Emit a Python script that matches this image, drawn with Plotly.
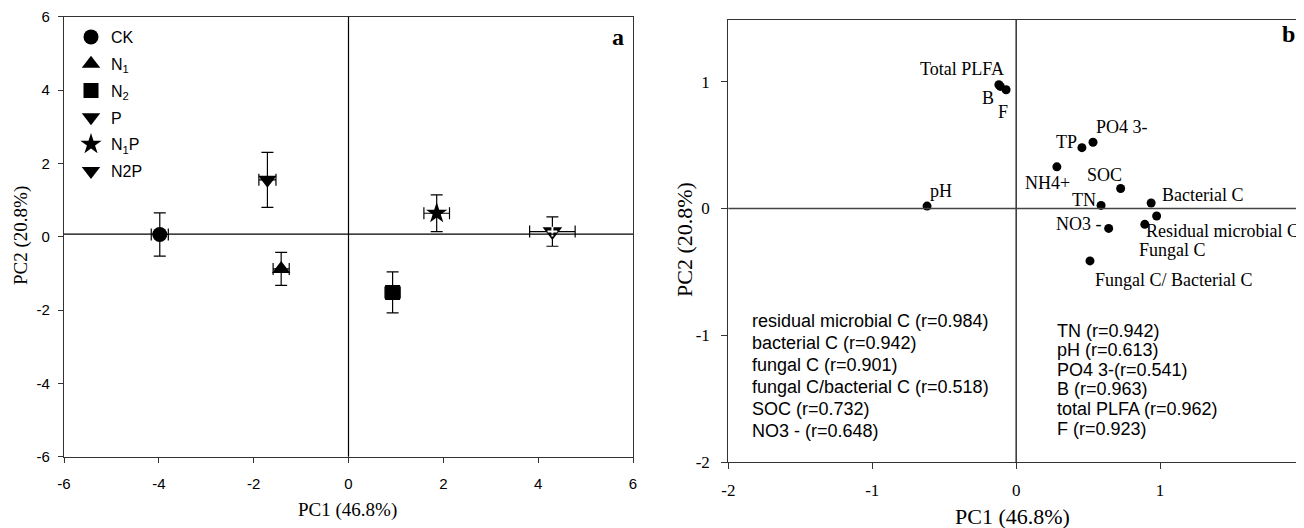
import plotly.graph_objects as go

# ---------------- Panel a: treatment scores (mean ± SE) ----------------
treatments = ["CK", "N<sub>1</sub>", "N<sub>2</sub>", "P", "N<sub>1</sub>P", "N2P"]
pc1_score = [-3.98, -1.42, 0.93, -1.71, 1.86, 4.30]
pc2_score = [0.06, -0.88, -1.52, 1.55, 0.64, 0.14]
pc1_err = [0.18, 0.17, 0.16, 0.18, 0.27, 0.48]
pc2_err = [0.59, 0.45, 0.56, 0.75, 0.50, 0.40]

# ---------------- Panel b: variable loadings ----------------
variables = ["Total PLFA", "B", "F", "PO4 3-", "TP", "NH4+", "SOC", "TN",
             "Bacterial C", "Residual microbial C", "Fungal C", "NO3 -",
             "Fungal C/ Bacterial C", "pH"]
pc1_load = [-0.12, -0.11, -0.07, 0.534, 0.457, 0.283, 0.726, 0.59,
            0.938, 0.976, 0.894, 0.643, 0.513, -0.619]
pc2_load = [0.975, 0.962, 0.935, 0.522, 0.479, 0.328, 0.157, 0.024,
            0.043, -0.059, -0.125, -0.157, -0.413, 0.019]

left_notes = ["residual microbial C (r=0.984)", "bacterial C (r=0.942)",
              "fungal C (r=0.901)", "fungal C/bacterial C (r=0.518)",
              "SOC (r=0.732)", "NO3 - (r=0.648)"]
right_notes = ["TN (r=0.942)", "pH (r=0.613)", "PO4 3-(r=0.541)",
               "B (r=0.963)", "total PLFA (r=0.962)", "F (r=0.923)"]

# tick labels
ticks_a = [-6, -4, -2, 0, 2, 4, 6]
ticks_a_text = ["-6", "-4", "-2", "0", "2", "4", "6"]
ticks_b_x = [-2, -1, 0, 1, 2]
ticks_b_x_text = ["-2", "-1", "0", "1", "2"]
ticks_b_y = [-2, -1, 0, 1]
ticks_b_y_text = ["-2", "-1", "0", "1"]

# ---------------- styles ----------------
PAGE_W, PAGE_H = 1304, 528
OFF = 8                      # default body margin of the html page
W, H = PAGE_W - OFF, PAGE_H - OFF
SANS = "Liberation Sans, Arial, sans-serif"
SERIF = "Liberation Serif, Times New Roman, serif"
symbols = ["circle", "triangle-up", "square", "triangle-down", "star", "triangle-down"]
sizes = [15, 16, 15, 16, 16, 17]


def fx(xp):
    """page pixel x -> paper fraction"""
    return (xp - OFF) / W


def fy(yp):
    """page pixel y -> paper fraction"""
    return 1 - (yp - OFF) / H


# label placement for panel b: (dx px, dy px, x anchor)
label_off = [(-37, 16, "center"), (-12, -12, "center"), (-3, -22, "center"),
             (29, 15, "center"), (-15, 6, "center"), (-9, -16, "center"),
             (-16, 14, "center"), (-17, 5, "center"), (51, 8, "center"),
             (144, -15, "right"), (28, -26, "center"), (-30, 4, "center"),
             (84, -19, "center"), (14, 15, "center")]

fig = go.Figure()

for i, name in enumerate(treatments):
    fig.add_trace(go.Scatter(
        x=[pc1_score[i]], y=[pc2_score[i]], mode="markers", name=name,
        legendgroup=str(i),
        marker=dict(symbol=symbols[i], size=sizes[i], color="black",
                    line=dict(width=0)),
        error_x=dict(type="data", array=[pc1_err[i]], color="black",
                     thickness=1.2, width=6),
        error_y=dict(type="data", array=[pc2_err[i]], color="black",
                     thickness=1.2, width=6),
        xaxis="x", yaxis="y"))

# white cross inside the N2P marker
fig.add_trace(go.Scatter(
    x=[pc1_score[5]], y=[pc2_score[5]], mode="markers", showlegend=False,
    legendgroup="5", hoverinfo="skip",
    marker=dict(symbol="cross-thin", size=7, color="white",
                line=dict(color="white", width=2)),
    xaxis="x", yaxis="y"))

fig.add_trace(go.Scatter(
    x=pc1_load, y=pc2_load, mode="markers", showlegend=False,
    marker=dict(symbol="circle", size=9, color="black"),
    xaxis="x2", yaxis="y2"))

annotations = []
for i, v in enumerate(variables):
    dx, dy, anc = label_off[i]
    annotations.append(dict(
        x=pc1_load[i], y=pc2_load[i], xref="x2", yref="y2", text=v,
        showarrow=False, xshift=dx, yshift=dy, xanchor=anc,
        font=dict(family=SERIF, size=18, color="black")))

# r= notes
for j, t in enumerate(left_notes):
    annotations.append(dict(x=-1.846, y=-0.885 - j * 0.1736, xref="x2", yref="y2",
                            text=t, showarrow=False, xanchor="left",
                            font=dict(family=SANS, size=18, color="black")))
for j, t in enumerate(right_notes):
    annotations.append(dict(x=0.269, y=-0.964 - j * 0.154, xref="x2", yref="y2",
                            text=t, showarrow=False, xanchor="left",
                            font=dict(family=SANS, size=18, color="black")))

# axis titles and panel letters
for (xp, yp, txt, ang, sz) in [
        (347, 510, "PC1 (46.8%)", 0, 19),
        (21, 236, "PC2 (20.8%)", -90, 19),
        (1013, 516, "PC1 (46.8%)", 0, 22),
        (685, 240, "PC2 (20.8%)", -90, 22),
        (618, 37, "<b>a</b>", 0, 24),
        (1288, 34, "<b>b</b>", 0, 24)]:
    annotations.append(dict(x=fx(xp), y=fy(yp), xref="paper", yref="paper", text=txt,
                            textangle=ang, showarrow=False,
                            xanchor="center", yanchor="middle",
                            font=dict(family=SERIF, size=sz, color="black")))

shapes = [
    dict(type="line", xref="x", yref="y domain", x0=0, x1=0, y0=0, y1=1,
         line=dict(color="black", width=1.2)),
    dict(type="line", xref="x domain", yref="y", x0=0, x1=1, y0=0.07, y1=0.07,
         line=dict(color="black", width=1.2)),
    dict(type="line", xref="x2", yref="y2 domain", x0=0, x1=0, y0=0, y1=1,
         line=dict(color="black", width=1.2)),
    dict(type="line", xref="x2 domain", yref="y2", x0=0, x1=1, y0=0, y1=0,
         line=dict(color="#444", width=1.4)),
]

axis_common = dict(showgrid=False, zeroline=False, showline=True, mirror=True,
                   linecolor="#333", linewidth=1.2, ticks="outside",
                   tickcolor="#333", tickwidth=1.2, automargin=False,
                   ticklabeloverflow="allow")

fig.update_layout(
    width=W, height=H, template="none",
    margin=dict(l=0, r=0, t=0, b=0),
    paper_bgcolor="white", plot_bgcolor="white",
    showlegend=True,
    legend=dict(x=fx(71), y=fy(20), xanchor="left", yanchor="top",
                font=dict(family=SANS, size=16, color="black"),
                tracegroupgap=3, bgcolor="rgba(0,0,0,0)"),
    xaxis=dict(domain=[fx(64), fx(633)], range=[-6, 6], anchor="y",
               tickvals=ticks_a, ticktext=ticks_a_text, ticklen=5,
               ticklabelstandoff=8,
               tickfont=dict(family=SANS, size=15, color="black"), **axis_common),
    yaxis=dict(domain=[fy(456.7), fy(16.7)], range=[-6, 6], anchor="x",
               tickvals=ticks_a, ticktext=ticks_a_text, ticklen=5,
               ticklabelstandoff=5,
               tickfont=dict(family=SANS, size=15, color="black"), **axis_common),
    xaxis2=dict(domain=[fx(728.3), 1.0], range=[-2, 2], anchor="y2",
                tickvals=ticks_b_x, ticktext=ticks_b_x_text, ticklen=6,
                ticklabelstandoff=6,
                tickfont=dict(family=SERIF, size=17, color="black"), **axis_common),
    yaxis2=dict(domain=[fy(462.3), fy(20)], range=[-2, 1.485], anchor="x2",
                tickvals=ticks_b_y, ticktext=ticks_b_y_text, ticklen=6,
                ticklabelstandoff=8,
                tickfont=dict(family=SERIF, size=17, color="black"), **axis_common),
    annotations=annotations,
    shapes=shapes,
)

fig.write_html("out.html")
